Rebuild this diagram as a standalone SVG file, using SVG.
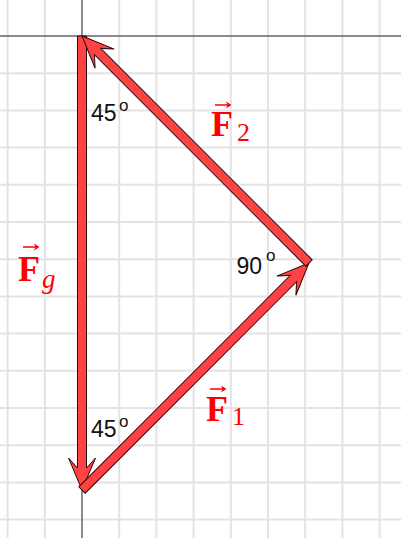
<svg xmlns="http://www.w3.org/2000/svg" width="401" height="538" viewBox="0 0 401 538">
<style>
.grid{stroke:#e3e3e3;stroke-width:2;fill:none}
.axis{stroke:#666;stroke-width:1.5;fill:none}
.vec{fill:#ff4242;stroke:#2a0a0a;stroke-width:1;stroke-linejoin:miter}
.ang{font-family:"Liberation Sans",Arial,sans-serif;font-size:23px;fill:#111}
.deg{font-family:"Liberation Sans",Arial,sans-serif;font-size:17px;fill:#111}
.fl{font-family:"Liberation Serif","Times New Roman",serif;font-weight:bold;font-size:36px;fill:#ff0000}
.sub{font-family:"Liberation Serif","Times New Roman",serif;font-size:26px;fill:#ff0000}
.subi{font-family:"Liberation Serif","Times New Roman",serif;font-style:italic;font-size:27px;fill:#ff0000}
.acc{stroke:#ff0000;stroke-width:1.5;fill:none}
.acch{fill:#ff0000}
</style>
<rect x="0" y="0" width="401" height="538" fill="#ffffff"/>
<g id="grid">
<path class="grid" d="M7.6,0V538M44.8,0V538M119.2,0V538M156.4,0V538M193.6,0V538M230.8,0V538M268,0V538M305.2,0V538M342.4,0V538M379.6,0V538"/>
<path class="grid" d="M0,73.2H401M0,110.4H401M0,147.6H401M0,184.8H401M0,222H401M0,259.2H401M0,296.4H401M0,333.6H401M0,370.8H401M0,408H401M0,445.2H401M0,482.4H401M0,519.6H401"/>
<path class="axis" d="M0,36H401M82,0V538"/>
</g>
<g id="connectors">
<g id="Fg-vector" transform="translate(82,36) rotate(90)">
<polygon class="vec" points="0,-4.5 432,-4.5 422,-13.5 454,0 422,13.5 432,4.5 0,4.5"/>
</g>
<g id="F1-vector" transform="translate(82,490) rotate(-45)">
<polygon class="vec" points="0,-4.5 299,-4.5 289,-13.5 321,0 289,13.5 299,4.5 0,4.5"/>
</g>
<g id="F2-vector" transform="translate(309,263) rotate(-135)">
<polygon class="vec" points="0,-4.5 299,-4.5 289,-13.5 321,0 289,13.5 299,4.5 0,4.5"/>
</g>
</g>
<g id="angle-top">
<text class="ang" x="91" y="121">45</text>
<text class="deg" x="119" y="111">o</text>
</g>
<g id="angle-right">
<text class="ang" x="236.5" y="274">90</text>
<text class="deg" x="266" y="261">o</text>
</g>
<g id="angle-bottom">
<text class="ang" x="91" y="436.5">45</text>
<text class="deg" x="119" y="426.5">o</text>
</g>
<g id="label-Fg">
<path class="acc" d="M23,247H37"/>
<polygon class="acch" points="39.5,247 34,243.5 35.5,247 34,250.5"/>
<text class="fl" x="18" y="281">F</text>
<text class="subi" x="42" y="288">g</text>
</g>
<g id="label-F1">
<path class="acc" d="M210,389H224"/>
<polygon class="acch" points="226.5,389 221,385.5 222.5,389 221,392.5"/>
<text class="fl" x="206" y="421">F</text>
<text class="sub" x="232" y="425">1</text>
</g>
<g id="label-F2">
<path class="acc" d="M215,105H229"/>
<polygon class="acch" points="231.5,105 226,101.5 227.5,105 226,108.5"/>
<text class="fl" x="211" y="136">F</text>
<text class="sub" x="237" y="141">2</text>
</g>
</svg>
